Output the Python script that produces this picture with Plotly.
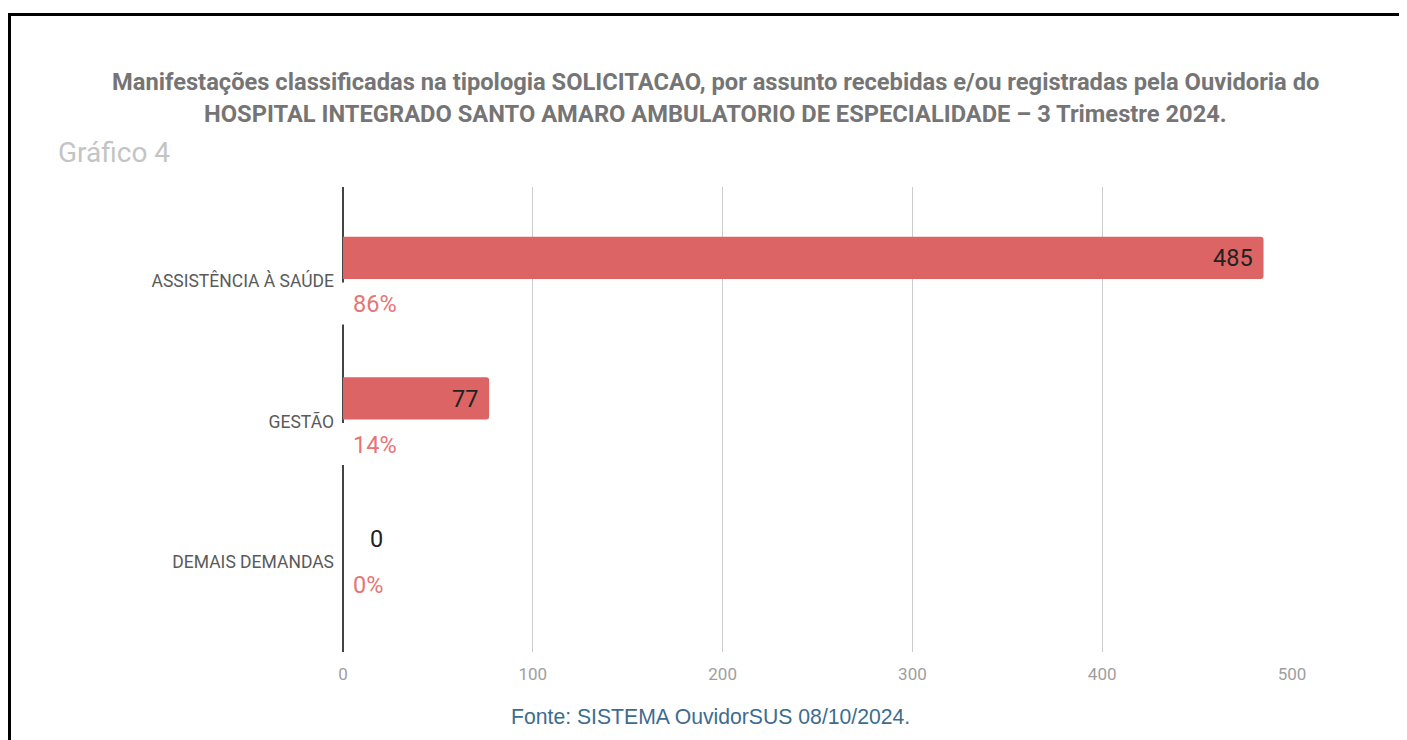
import plotly.graph_objects as go

categorias = ["ASSISTÊNCIA À SAÚDE", "GESTÃO", "DEMAIS DEMANDAS"]
valores = [485, 77, 0]
percentuais = ["86%", "14%", "0%"]
x_ticks = [0, 100, 200, 300, 400, 500]

titulo_l1 = "Manifestações classificadas na tipologia SOLICITACAO, por assunto recebidas e/ou registradas pela Ouvidoria do"
titulo_l2 = "HOSPITAL INTEGRADO SANTO AMARO AMBULATORIO DE ESPECIALIDADE – 3 Trimestre 2024."
subtitulo = "Gráfico 4"
fonte = "Fonte: SISTEMA OuvidorSUS 08/10/2024."

OFF = 8  # page body margin
W, H = 1407 - OFF, 740 - OFF
L, R, T, B = 343 - OFF, 115, 187 - OFF, 88
pw, ph = W - L - R, H - T - B
Y_RANGE = [2.64, -0.669]

def px(x):
    return (x - OFF - L) / pw

def py(y):
    return (H - B - (y - OFF)) / ph

def cat_to_paper(v):
    return (Y_RANGE[0] - v) / (Y_RANGE[0] - Y_RANGE[1])

BAR = "#dd6464"

fig = go.Figure()
fig.add_trace(go.Bar(
    y=categorias, x=valores, orientation="h",
    marker=dict(color=BAR, line=dict(width=0)),
    offset=-0.315, width=0.3,
    hoverinfo="skip",
))

ann = []
for c, v, p in zip(categorias, valores, percentuais):
    if v > 0:
        ann.append(dict(x=v, y=c, xref="x", yref="y", text=str(v), showarrow=False,
                        xanchor="right", yanchor="middle", xshift=-9, yshift=23,
                        font=dict(family="Roboto", size=23.5, color="#222222")))
    else:
        ann.append(dict(x=v, y=c, xref="x", yref="y", text=str(v), showarrow=False,
                        xanchor="left", yanchor="middle", xshift=25, yshift=23,
                        font=dict(family="Roboto", size=23.5, color="#222222")))
    ann.append(dict(x=0, y=c, xref="x", yref="y", text=p, showarrow=False,
                    xanchor="left", yanchor="middle", xshift=8, yshift=-23,
                    font=dict(family="Roboto", size=23.5, color="#e67575")))

ann += [
    dict(x=px(715), y=py(82), xref="paper", yref="paper", text="<b>" + titulo_l1 + "</b>",
         showarrow=False, xanchor="center", yanchor="middle",
         font=dict(family="Roboto", size=23.7, color="#757575")),
    dict(x=px(715), y=py(114), xref="paper", yref="paper", text="<b>" + titulo_l2 + "</b>",
         showarrow=False, xanchor="center", yanchor="middle",
         font=dict(family="Roboto", size=23.7, color="#757575")),
    dict(x=px(56), y=py(152), xref="paper", yref="paper", text=subtitulo,
         showarrow=False, xanchor="left", yanchor="middle",
         font=dict(family="Roboto", size=28, color="#c4c4c4")),
    dict(x=px(710), y=py(716), xref="paper", yref="paper", text=fonte,
         showarrow=False, xanchor="center", yanchor="middle",
         font=dict(family="Liberation Sans", size=21.2, color="#3d6c8f")),
]

shapes = [
    dict(type="line", xref="paper", yref="paper", x0=px(9.5), x1=px(9.5), y0=py(13), y1=py(745),
         line=dict(color="#000000", width=3)),
    dict(type="line", xref="paper", yref="paper", x0=px(8), x1=px(1415), y0=py(14.5), y1=py(14.5),
         line=dict(color="#000000", width=3)),
]
# category axis line, drawn in segments (small gaps below the first two bars)
segs = [(Y_RANGE[1], 0.01), (0.31, 1.01), (1.31, Y_RANGE[0])]
for a, b in segs:
    shapes.append(dict(type="line", xref="paper", yref="paper", x0=0, x1=0,
                       y0=cat_to_paper(a), y1=cat_to_paper(b),
                       line=dict(color="#444444", width=2), layer="below"))

fig.update_layout(
    width=W, height=H,
    margin=dict(l=L, r=R, t=T, b=B),
    paper_bgcolor="white", plot_bgcolor="white",
    showlegend=False,
    barcornerradius=3,
    annotations=ann,
    shapes=shapes,
    xaxis=dict(range=[0, 500], tickvals=x_ticks, showgrid=True, gridcolor="#cccccc", gridwidth=1,
               zeroline=False, showline=False, ticks="", ticklabelstandoff=10,
               tickfont=dict(family="Roboto", size=17, color="#9e9e9e"), fixedrange=True),
    yaxis=dict(type="category", categoryorder="array", categoryarray=categorias,
               range=Y_RANGE, showgrid=False, zeroline=False,
               showline=False, ticks="", ticklabelstandoff=8,
               tickfont=dict(family="Roboto", size=17.5, color="#5a5a5a"), fixedrange=True),
)

fig.write_html("out.html")
